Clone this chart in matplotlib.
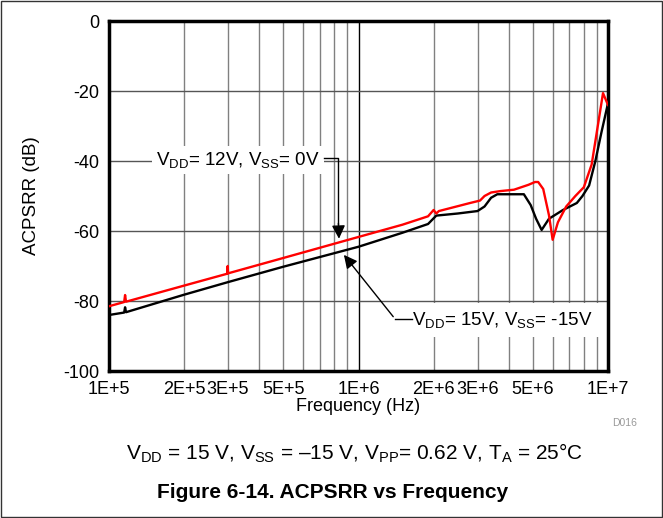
import matplotlib.pyplot as plt
import matplotlib.patches as mpatches
import numpy as np

plt.rcParams['font.family'] = ['Liberation Sans', 'DejaVu Sans']
plt.rcParams['mathtext.fontset'] = 'custom'
plt.rcParams['mathtext.rm'] = 'Liberation Sans'
plt.rcParams['mathtext.it'] = 'Liberation Sans:italic'

# VDD=12V, VSS=0V (red)
f_red = [1e5, 1.15e5, 1.16e5, 1.17e5, 2e5, 2.98e5, 2.99e5, 3.0e5, 5e5, 1e6, 1.5e6,
         1.9e6, 2.0e6, 2.05e6, 2.1e6, 2.8e6, 3.07e6, 3.2e6, 3.4e6, 3.7e6, 4.2e6, 4.8e6,
         5.1e6, 5.25e6, 5.5e6, 5.8e6, 6.0e6, 6.3e6, 6.8e6, 7.4e6, 8.0e6, 8.6e6, 9.1e6,
         9.55e6, 1e7]
db_red = [-81.5, -80.3, -78.3, -80.2, -75.6, -72.2, -70.0, -72.1, -67.7, -61.7, -58.2,
          -55.8, -54.0, -55.0, -54.3, -52.0, -51.3, -50.0, -49.0, -48.6, -48.2, -46.8,
          -46.0, -46.0, -48.0, -55.5, -62.5, -57.5, -53.0, -50.0, -47.5, -41.0, -30.0,
          -20.6, -24.0]

# VDD=15V, VSS=-15V (black)
f_blk = [1e5, 1.15e5, 1.16e5, 1.17e5, 2e5, 3e5, 5e5, 1e6, 1.5e6, 1.9e6, 2.05e6,
         2.5e6, 3.0e6, 3.2e6, 3.4e6, 3.6e6, 4.6e6, 4.9e6, 5.15e6, 5.42e6, 5.8e6,
         6.6e6, 7.5e6, 7.9e6, 8.4e6, 8.9e6, 9.4e6, 1e7]
db_blk = [-84.0, -83.3, -81.8, -83.2, -78.2, -74.6, -70.2, -64.5, -60.5, -58.0, -55.6,
          -55.0, -54.3, -53.0, -50.5, -49.5, -49.5, -52.6, -56.5, -59.7, -56.5,
          -54.0, -52.0, -50.0, -47.0, -40.0, -32.0, -23.5]

xticks = [1e5, 2e5, 3e5, 5e5, 1e6, 2e6, 3e6, 5e6, 1e7]
xtick_labels = ['1E+5', '2E+5', '3E+5', '5E+5', '1E+6', '2E+6', '3E+6', '5E+6', '1E+7']
yticks = [0, -20, -40, -60, -80, -100]

fig = plt.figure(figsize=(6.63, 5.18), dpi=100)
ax = fig.add_axes([109/663, 1-371/518, (608-109)/663, 350/518])

ax.plot(f_blk, db_blk, color='black', lw=1.7, zorder=3)
ax.plot(f_red, db_red, color='#ff0000', lw=1.7, zorder=4)

ax.set_xscale('log')
ax.set_xlim(1e5, 1e7)
ax.set_ylim(-100, 0)
ax.set_xticks(xticks)
ax.set_xticklabels(xtick_labels)
ax.set_xticks([], minor=True)
ax.set_yticks(yticks)
ax.set_yticklabels([str(v) for v in yticks])
ax.tick_params(length=0, labelsize=13, pad=7)

# grid
for dec in [1e5, 1e6]:
    for m in range(2, 10):
        ax.axvline(dec*m, color='#808080', lw=1, zorder=1)
ax.axvline(1e6, color='black', lw=1, zorder=1)
for v in [-20, -40, -60, -80]:
    ax.axhline(v, color='#555555', lw=1, zorder=1)

for s in ax.spines.values():
    s.set_linewidth(2.5)

ax.set_ylabel('ACPSRR (dB)', fontsize=13.5, labelpad=17)
ax.set_xlabel('Frequency (Hz)', fontsize=13, labelpad=0)

# annotations
ax.text(3.3e5, -39.8, r'V$_{\mathrm{DD}}$= 12V, V$_{\mathrm{SS}}$= 0V', fontsize=13.5,
        ha='center', va='center', zorder=5,
        bbox=dict(facecolor='white', edgecolor='none', pad=3))
ax.plot([7.3e5, 8.3e5, 8.3e5], [-39.2, -39.2, -58], color='black', lw=1, zorder=5)
ax.annotate('', xy=(8.36e5, -63.0), xytext=(8.3e5, -57),
            arrowprops=dict(arrowstyle='-|>', color='black', lw=1, mutation_scale=20), zorder=6)

ax.text(3.76e6, -85.4, r'V$_{\mathrm{DD}}$= 15V, V$_{\mathrm{SS}}$= -15V', fontsize=13.5,
        ha='center', va='center', zorder=5,
        bbox=dict(facecolor='white', edgecolor='none', pad=5))
ax.plot([1.64e6, 1.4e6], [-85.1, -85.1], color='black', lw=1, zorder=5)
ax.annotate('', xy=(8.6e5, -66.2), xytext=(1.4e6, -85.1),
            arrowprops=dict(arrowstyle='-|>', color='black', lw=1, mutation_scale=20), zorder=6)

fig.text(612/663, 1-423/518, 'D016', fontsize=7.5, color='#999999', ha='left', va='center')
fig.text(355/663, 1-453/518,
         r'V$_{\mathrm{DD}}$ = 15 V, V$_{\mathrm{SS}}$ = –15 V, V$_{\mathrm{PP}}$= 0.62 V, T$_{\mathrm{A}}$ = 25°C',
         fontsize=15, ha='center', va='center')
fig.text(333/663, 1-492/518, 'Figure 6-14. ACPSRR vs Frequency', fontsize=15,
         fontweight='bold', ha='center', va='center')

fig.patches.append(mpatches.Rectangle((0.002, 0.002), 0.996, 0.996, transform=fig.transFigure,
                                      fill=False, edgecolor='#333333', lw=1))

plt.savefig('out.png', dpi=100)
